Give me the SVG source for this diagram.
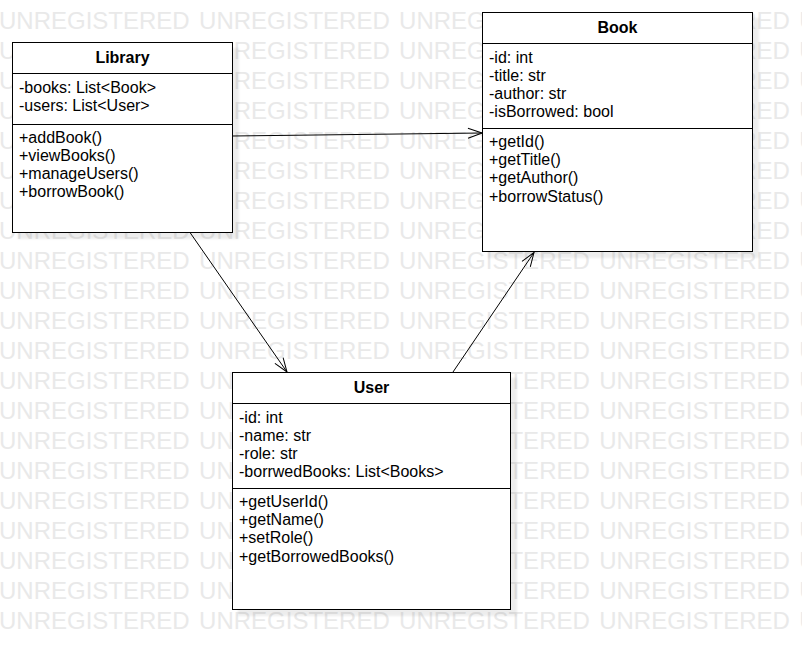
<svg xmlns="http://www.w3.org/2000/svg" width="802" height="660" viewBox="0 0 802 660">
<style>
.wm{font-family:"Liberation Sans",Arial,sans-serif;font-size:24px;fill:#e9e9e9;word-spacing:2.7px}
.box{fill:#fff;stroke:#000;stroke-width:1}
.shadow{fill:#000;fill-opacity:0.07}
.div{stroke:#000;stroke-width:1}
.t{font-family:"Liberation Sans",Arial,sans-serif;font-size:16px;fill:#000}
.title{font-family:"Liberation Sans",Arial,sans-serif;font-size:16px;font-weight:bold;fill:#000;text-anchor:middle}
.conn{fill:none;stroke:#000;stroke-width:1}
</style>
<defs>
<marker id="arr" viewBox="-15 -6 16 12" markerWidth="16" markerHeight="12" refX="0" refY="0" orient="auto" markerUnits="userSpaceOnUse">
<path d="M-14,-5 L0,0 L-14,5" fill="none" stroke="#000" stroke-width="1"/>
</marker>
<filter id="blur" x="-5%" y="-5%" width="110%" height="110%"><feGaussianBlur stdDeviation="1.2"/></filter>
</defs>
<rect width="802" height="660" fill="#fff"/>
<g id="watermark">
<text class="wm" x="-1" y="29">UNREGISTERED UNREGISTERED UNREGISTERED UNREGISTERED UNREGISTERED</text>
<text class="wm" x="-1" y="59">UNREGISTERED UNREGISTERED UNREGISTERED UNREGISTERED UNREGISTERED</text>
<text class="wm" x="-1" y="89">UNREGISTERED UNREGISTERED UNREGISTERED UNREGISTERED UNREGISTERED</text>
<text class="wm" x="-1" y="119">UNREGISTERED UNREGISTERED UNREGISTERED UNREGISTERED UNREGISTERED</text>
<text class="wm" x="-1" y="149">UNREGISTERED UNREGISTERED UNREGISTERED UNREGISTERED UNREGISTERED</text>
<text class="wm" x="-1" y="179">UNREGISTERED UNREGISTERED UNREGISTERED UNREGISTERED UNREGISTERED</text>
<text class="wm" x="-1" y="209">UNREGISTERED UNREGISTERED UNREGISTERED UNREGISTERED UNREGISTERED</text>
<text class="wm" x="-1" y="239">UNREGISTERED UNREGISTERED UNREGISTERED UNREGISTERED UNREGISTERED</text>
<text class="wm" x="-1" y="269">UNREGISTERED UNREGISTERED UNREGISTERED UNREGISTERED UNREGISTERED</text>
<text class="wm" x="-1" y="299">UNREGISTERED UNREGISTERED UNREGISTERED UNREGISTERED UNREGISTERED</text>
<text class="wm" x="-1" y="329">UNREGISTERED UNREGISTERED UNREGISTERED UNREGISTERED UNREGISTERED</text>
<text class="wm" x="-1" y="359">UNREGISTERED UNREGISTERED UNREGISTERED UNREGISTERED UNREGISTERED</text>
<text class="wm" x="-1" y="389">UNREGISTERED UNREGISTERED UNREGISTERED UNREGISTERED UNREGISTERED</text>
<text class="wm" x="-1" y="419">UNREGISTERED UNREGISTERED UNREGISTERED UNREGISTERED UNREGISTERED</text>
<text class="wm" x="-1" y="449">UNREGISTERED UNREGISTERED UNREGISTERED UNREGISTERED UNREGISTERED</text>
<text class="wm" x="-1" y="479">UNREGISTERED UNREGISTERED UNREGISTERED UNREGISTERED UNREGISTERED</text>
<text class="wm" x="-1" y="509">UNREGISTERED UNREGISTERED UNREGISTERED UNREGISTERED UNREGISTERED</text>
<text class="wm" x="-1" y="539">UNREGISTERED UNREGISTERED UNREGISTERED UNREGISTERED UNREGISTERED</text>
<text class="wm" x="-1" y="569">UNREGISTERED UNREGISTERED UNREGISTERED UNREGISTERED UNREGISTERED</text>
<text class="wm" x="-1" y="599">UNREGISTERED UNREGISTERED UNREGISTERED UNREGISTERED UNREGISTERED</text>
<text class="wm" x="-1" y="629">UNREGISTERED UNREGISTERED UNREGISTERED UNREGISTERED UNREGISTERED</text>
</g>
<g id="library">
<rect class="shadow" x="18" y="48" width="221" height="191" filter="url(#blur)"/>
<rect class="box" x="12.5" y="42.5" width="220" height="190"/>
<line class="div" x1="12.5" y1="73.5" x2="232.5" y2="73.5"/>
<line class="div" x1="12.5" y1="124.5" x2="232.5" y2="124.5"/>
<text class="title" x="122.5" y="63">Library</text>
<text class="t" x="19" y="93">-books: List&lt;Book&gt;</text>
<text class="t" x="19" y="111.3">-users: List&lt;User&gt;</text>
<text class="t" x="19" y="142.5">+addBook()</text>
<text class="t" x="19" y="160.8">+viewBooks()</text>
<text class="t" x="19" y="179.1">+manageUsers()</text>
<text class="t" x="19" y="197.4">+borrowBook()</text>
</g>
<g id="book">
<rect class="shadow" x="488" y="18" width="271" height="240" filter="url(#blur)"/>
<rect class="box" x="482.5" y="12.5" width="270" height="239"/>
<line class="div" x1="482.5" y1="43.5" x2="752.5" y2="43.5"/>
<line class="div" x1="482.5" y1="128.5" x2="752.5" y2="128.5"/>
<text class="title" x="617.5" y="32.5">Book</text>
<text class="t" x="489" y="62.5">-id: int</text>
<text class="t" x="489" y="80.8">-title: str</text>
<text class="t" x="489" y="99.1">-author: str</text>
<text class="t" x="489" y="117.4">-isBorrowed: bool</text>
<text class="t" x="489" y="146.8">+getId()</text>
<text class="t" x="489" y="165.1">+getTitle()</text>
<text class="t" x="489" y="183.4">+getAuthor()</text>
<text class="t" x="489" y="201.7">+borrowStatus()</text>
</g>
<g id="user">
<rect class="shadow" x="238" y="378" width="279" height="238" filter="url(#blur)"/>
<rect class="box" x="232.5" y="372.5" width="278" height="237"/>
<line class="div" x1="232.5" y1="403.5" x2="510.5" y2="403.5"/>
<line class="div" x1="232.5" y1="488.5" x2="510.5" y2="488.5"/>
<text class="title" x="371.5" y="392.5">User</text>
<text class="t" x="239" y="422.5">-id: int</text>
<text class="t" x="239" y="440.8">-name: str</text>
<text class="t" x="239" y="459.1">-role: str</text>
<text class="t" x="239" y="477.4">-borrwedBooks: List&lt;Books&gt;</text>
<text class="t" x="239" y="506.8">+getUserId()</text>
<text class="t" x="239" y="525.1">+getName()</text>
<text class="t" x="239" y="543.4">+setRole()</text>
<text class="t" x="239" y="561.7">+getBorrowedBooks()</text>
</g>
<g id="connectors">
<path class="conn" d="M232.5,136 L482,133" marker-end="url(#arr)"/>
<path class="conn" d="M190,232.5 L287,372" marker-end="url(#arr)"/>
<path class="conn" d="M453,372 L534,252.5" marker-end="url(#arr)"/>
</g>
</svg>
